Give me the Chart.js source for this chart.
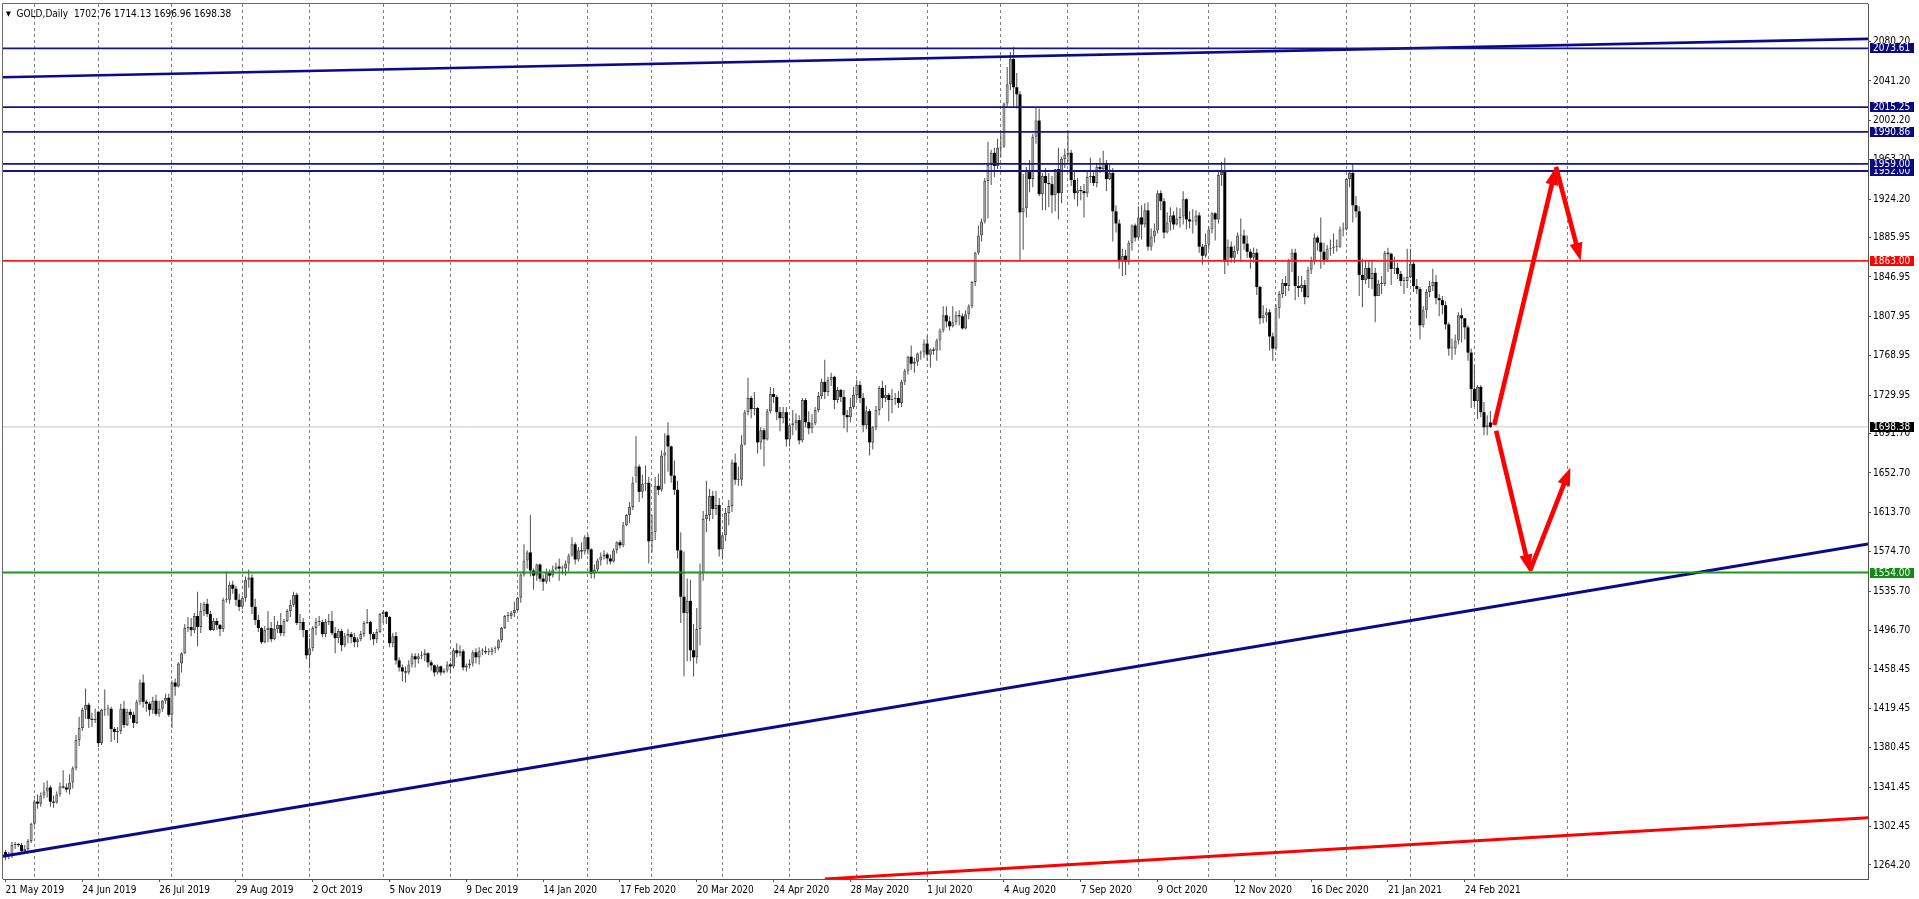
<!DOCTYPE html>
<html>
<head>
<meta charset="utf-8">
<title>GOLD, Daily</title>
<script src="https://cdn.jsdelivr.net/npm/chart.js"></script>
<style>
  html, body { margin: 0; padding: 0; background: #fff; overflow: hidden; }
  #wrap { position: relative; width: 1919px; height: 899px; }
  #hdr { position: absolute; left: 6px; top: 8px; font: 10px 'DejaVu Sans Condensed', 'DejaVu Sans', sans-serif;
         color: #000; white-space: pre; line-height: 12px; }
  #hdr .tri { font-size: 7px; position: relative; top: -1px; }
</style>
</head>
<body>
<div id="wrap">
  <canvas id="gold" width="1919" height="899"></canvas>
  <div id="hdr"><span class="tri">▼</span>  GOLD,Daily  1702.76 1714.13 1696.96 1698.38</div>
</div>
<script>
// daily bars 21 May 2019 .. 8 Mar 2021, one row per month
const opens = [
  1277,1273,1274,1284,1285,1284,1278,1280,1288,
  1305,1327,1325,1333,1337,1341,1327,1326,1334,1342,1341,1339,1346,1360,1388,1400,1418,1423,1409,1408,
  1416,1385,1418,1419,1419,1399,1396,1397,1419,1403,1416,1413,1405,1426,1445,1426,1424,1418,1427,1414,1419,1427,1430,
  1413,1445,1441,1464,1474,1499,1500,1497,1511,1500,1516,1523,1513,1497,1506,1502,1498,1527,1527,1542,1538,1527,
  1520,1529,1547,1549,1520,1507,1499,1485,1497,1499,1488,1498,1502,1494,1506,1516,1522,1532,1504,1505,1497,
  1472,1479,1499,1505,1505,1493,1505,1506,1494,1489,1496,1482,1491,1493,1490,1485,1488,1493,1504,1505,1493,1488,1495,
  1513,1515,1510,1484,1491,1467,1460,1456,1455,1463,1471,1468,1471,1472,1474,1465,1462,1455,1461,1455,1457,
  1463,1461,1477,1474,1476,1460,1462,1464,1475,1470,1476,1476,1475,1475,1478,1479,1487,1499,1511,1511,1514,
  1517,1529,1552,1566,1574,1556,1551,1562,1548,1545,1554,1551,1557,1560,1558,1558,1563,1571,1582,1567,1576,1575,
  1589,1577,1553,1557,1566,1570,1572,1568,1565,1576,1584,1581,1601,1611,1619,1650,1659,1634,1642,1643,
  1585,1594,1640,1636,1670,1690,1679,1650,1636,1576,1530,1514,1526,1477,1470,1498,1553,1607,1611,1630,1617,1621,
  1577,1591,1613,1620,1663,1646,1646,1681,1713,1727,1716,1717,1683,1695,1686,1714,1731,1728,1713,1707,1713,
  1686,1700,1702,1705,1685,1725,1703,1697,1702,1715,1729,1743,1733,1745,1748,1725,1735,1728,1710,1708,1718,
  1730,1740,1727,1700,1714,1683,1698,1715,1737,1727,1730,1725,1726,1727,1722,1743,1754,1768,1761,1763,1771,1772,
  1781,1770,1775,1774,1784,1794,1809,1803,1798,1802,1809,1808,1796,1810,1818,1842,1871,1888,1902,1942,1958,1970,1957,
  1975,1976,2019,2038,2063,2035,2028,1911,1915,1953,1944,1986,2002,1929,1947,1940,1939,1928,1954,1930,1964,
  1968,1970,1943,1930,1933,1932,1930,1946,1947,1940,1956,1954,1960,1944,1950,1912,1900,1863,1868,1862,1881,1898,
  1886,1906,1899,1913,1877,1887,1893,1930,1922,1891,1901,1908,1899,1905,1907,1924,1904,1902,1902,1908,1877,1868,
  1879,1894,1910,1904,1948,1951,1862,1877,1866,1873,1888,1888,1880,1872,1866,1871,1837,1806,1809,1812,1788,
  1776,1816,1830,1841,1838,1863,1871,1838,1836,1839,1827,1854,1863,1886,1881,1872,1864,1875,1876,1877,1877,1894,
  1894,1944,1950,1918,1912,1849,1844,1856,1845,1851,1828,1840,1840,1871,1870,1855,1856,1850,1843,1843,
  1847,1860,1838,1835,1799,1814,1832,1838,1842,1826,1824,1819,1800,1776,1776,1784,1809,1806,1797,1772,
  1736,1724,1738,1713,1698,1702.76
];
const highs = [
  1279,1277,1287,1287,1286,1286,1284,1290,1306,
  1329,1334,1336,1346,1348,1343,1333,1337,1346,1358,1345,1354,1362,1393,1411,1420,1439,1425,1415,1419,
  1417,1419,1438,1423,1421,1401,1401,1424,1427,1419,1419,1416,1428,1448,1453,1428,1426,1431,1433,1427,1428,1434,1434,
  1447,1449,1465,1475,1503,1510,1509,1514,1535,1524,1525,1528,1516,1509,1509,1503,1529,1555,1545,1546,1541,1533,
  1531,1550,1557,1552,1528,1512,1500,1501,1516,1505,1511,1506,1514,1508,1518,1527,1535,1534,1513,1509,1497,
  1489,1501,1509,1511,1507,1508,1513,1516,1500,1498,1498,1494,1498,1495,1494,1490,1496,1506,1518,1506,1495,1498,1514,
  1517,1516,1511,1494,1495,1470,1463,1461,1467,1474,1474,1474,1476,1478,1475,1467,1463,1463,1462,1459,1466,
  1465,1479,1484,1482,1478,1464,1468,1477,1479,1480,1479,1481,1479,1480,1481,1488,1500,1512,1515,1516,1525,
  1530,1553,1582,1576,1611,1558,1563,1563,1552,1558,1557,1561,1564,1568,1561,1566,1573,1589,1584,1579,1584,1591,
  1592,1578,1562,1568,1574,1576,1574,1572,1578,1585,1586,1604,1612,1624,1649,1689,1661,1651,1660,1649,
  1611,1649,1652,1675,1692,1703,1680,1665,1645,1594,1575,1548,1547,1503,1519,1563,1615,1645,1637,1635,1635,1628,
  1592,1618,1626,1666,1672,1659,1690,1715,1747,1729,1733,1718,1698,1697,1716,1738,1737,1730,1718,1718,1718,
  1702,1715,1712,1710,1727,1727,1714,1711,1718,1733,1746,1765,1748,1752,1749,1738,1736,1735,1715,1727,1738,
  1745,1744,1732,1719,1716,1699,1719,1739,1744,1740,1732,1736,1732,1734,1745,1756,1769,1779,1767,1772,1774,1785,
  1789,1776,1777,1786,1796,1818,1818,1808,1818,1813,1814,1811,1814,1820,1843,1872,1898,1905,1945,1981,1973,1975,1984,
  1992,2020,2055,2070,2075,2049,2031,1949,1956,1963,1989,2015,2014,1950,1955,1950,1947,1954,1975,1966,1974,
  1992,1973,1952,1945,1937,1939,1951,1965,1952,1959,1965,1972,1963,1959,1955,1918,1904,1875,1874,1883,1899,1900,
  1917,1918,1920,1921,1895,1900,1933,1933,1925,1911,1916,1912,1916,1915,1932,1925,1912,1914,1913,1911,1880,1890,
  1897,1911,1911,1951,1961,1965,1884,1882,1878,1891,1905,1894,1888,1875,1876,1875,1838,1819,1816,1815,1792,
  1820,1833,1845,1848,1865,1875,1875,1848,1848,1844,1857,1867,1890,1888,1906,1881,1879,1884,1890,1884,1897,1901,
  1945,1953,1959,1927,1917,1865,1864,1863,1863,1856,1844,1848,1873,1876,1871,1867,1861,1853,1847,1875,
  1875,1862,1845,1837,1818,1835,1843,1855,1849,1830,1828,1823,1802,1786,1790,1812,1816,1806,1799,1776,
  1760,1740,1740,1723,1710,1714.13
];
const lows = [
  1269,1270,1271,1280,1282,1276,1275,1278,1286,
  1303,1320,1322,1330,1331,1322,1321,1325,1332,1340,1336,1334,1340,1358,1382,1397,1409,1400,1401,1405,
  1381,1383,1412,1412,1386,1388,1385,1394,1400,1402,1409,1400,1404,1423,1420,1416,1412,1414,1412,1411,1416,1424,1411,
  1400,1432,1440,1455,1473,1495,1491,1494,1481,1494,1511,1510,1496,1496,1497,1491,1495,1524,1523,1533,1521,1516,
  1518,1525,1539,1513,1502,1495,1483,1484,1485,1485,1487,1494,1491,1491,1505,1510,1520,1502,1497,1490,1468,
  1459,1476,1492,1501,1490,1490,1502,1492,1474,1484,1476,1480,1484,1484,1480,1480,1486,1490,1503,1487,1482,1484,1494,
  1504,1503,1480,1480,1463,1456,1446,1445,1453,1460,1460,1464,1468,1466,1460,1457,1451,1453,1452,1454,1455,
  1454,1459,1470,1471,1457,1456,1459,1461,1464,1463,1472,1473,1472,1472,1474,1477,1485,1498,1505,1508,1510,
  1516,1524,1550,1558,1550,1537,1546,1545,1536,1543,1545,1549,1556,1546,1552,1551,1555,1570,1562,1565,1568,1572,
  1572,1548,1548,1555,1561,1567,1562,1562,1564,1573,1578,1579,1600,1603,1616,1643,1624,1628,1635,1563,
  1574,1586,1631,1634,1642,1654,1643,1631,1568,1504,1451,1466,1466,1451,1464,1482,1546,1594,1605,1607,1611,1570,
  1567,1585,1601,1614,1641,1640,1640,1680,1710,1707,1710,1672,1676,1659,1685,1712,1722,1705,1694,1702,1679,
  1679,1690,1695,1681,1683,1698,1691,1692,1700,1713,1726,1726,1729,1739,1716,1722,1723,1697,1693,1703,1716,
  1725,1722,1693,1696,1670,1676,1695,1710,1717,1723,1704,1712,1720,1717,1718,1740,1750,1755,1752,1759,1765,1767,
  1764,1757,1770,1764,1774,1792,1797,1794,1797,1799,1799,1795,1795,1805,1816,1838,1869,1882,1900,1905,1938,1946,1954,
  1965,1975,2015,2032,2015,2014,1863,1874,1906,1931,1936,1979,1927,1913,1913,1916,1910,1912,1904,1920,1955,
  1961,1937,1924,1917,1923,1906,1926,1940,1937,1936,1950,1952,1932,1943,1882,1891,1855,1848,1849,1859,1873,1882,
  1884,1884,1896,1873,1873,1881,1890,1913,1885,1890,1893,1894,1898,1896,1899,1894,1895,1890,1898,1871,1859,1866,
  1874,1890,1883,1900,1937,1850,1858,1861,1861,1870,1862,1874,1866,1855,1861,1829,1800,1801,1802,1774,1764,
  1774,1806,1826,1828,1833,1852,1824,1827,1832,1820,1826,1850,1859,1873,1855,1859,1862,1868,1870,1872,1876,1887,
  1893,1936,1901,1906,1828,1817,1840,1836,1835,1802,1828,1830,1838,1852,1839,1850,1845,1838,1830,1836,
  1846,1832,1830,1785,1797,1806,1827,1833,1820,1808,1810,1795,1769,1765,1770,1780,1782,1785,1764,1717,
  1718,1706,1708,1690,1690,1696.96
];
const closes = [
  1273,1274,1284,1285,1284,1278,1280,1288,1305,
  1327,1325,1333,1337,1341,1327,1326,1334,1342,1341,1339,1346,1360,1388,1400,1418,1423,1409,1408,1409,
  1385,1418,1419,1419,1399,1396,1397,1419,1403,1416,1413,1405,1426,1445,1426,1424,1418,1427,1414,1419,1427,1430,1413,
  1445,1441,1464,1474,1499,1500,1497,1511,1500,1516,1523,1513,1497,1506,1502,1498,1527,1527,1542,1538,1527,1520,
  1529,1547,1549,1520,1507,1499,1485,1497,1499,1488,1498,1502,1494,1506,1516,1522,1532,1504,1505,1497,1472,
  1479,1499,1505,1505,1493,1505,1506,1494,1489,1496,1482,1491,1493,1490,1485,1488,1493,1504,1505,1493,1488,1495,1513,
  1515,1510,1484,1491,1467,1460,1456,1455,1463,1471,1468,1471,1472,1474,1465,1462,1455,1461,1455,1457,1463,
  1461,1477,1474,1476,1460,1462,1464,1475,1470,1476,1476,1475,1475,1478,1479,1487,1499,1511,1511,1514,1517,
  1529,1552,1566,1574,1556,1551,1562,1548,1545,1554,1551,1557,1560,1558,1558,1563,1571,1582,1567,1576,1575,1589,
  1577,1553,1557,1566,1570,1572,1568,1565,1576,1584,1581,1601,1611,1619,1643,1659,1634,1642,1643,1585,
  1594,1640,1636,1670,1673,1679,1650,1636,1576,1530,1514,1526,1477,1470,1498,1553,1607,1611,1630,1617,1621,1577,
  1591,1613,1620,1663,1646,1646,1681,1713,1727,1716,1717,1683,1695,1686,1714,1731,1728,1713,1707,1713,1686,
  1700,1702,1705,1685,1725,1703,1697,1702,1715,1729,1743,1733,1745,1748,1725,1735,1728,1710,1708,1718,1730,
  1740,1727,1700,1714,1683,1698,1715,1737,1727,1730,1725,1726,1727,1722,1743,1754,1768,1761,1763,1771,1772,1781,
  1770,1775,1774,1784,1794,1809,1803,1798,1802,1809,1808,1796,1810,1818,1842,1871,1888,1902,1942,1958,1970,1957,1975,
  1976,2019,2038,2063,2035,2028,1911,1915,1953,1944,1986,2002,1929,1947,1940,1939,1928,1954,1930,1964,1968,
  1970,1943,1930,1933,1932,1930,1946,1947,1940,1956,1954,1960,1944,1950,1912,1900,1863,1868,1862,1881,1898,1886,
  1906,1899,1913,1877,1887,1893,1930,1922,1891,1901,1908,1899,1905,1907,1924,1904,1902,1902,1908,1877,1868,1879,
  1894,1910,1904,1948,1951,1862,1877,1866,1873,1888,1888,1880,1872,1866,1871,1837,1806,1809,1812,1788,1776,
  1816,1830,1841,1838,1863,1871,1838,1836,1839,1827,1854,1863,1886,1881,1872,1864,1875,1876,1877,1877,1894,1894,
  1944,1950,1918,1912,1849,1844,1856,1845,1851,1828,1840,1840,1871,1870,1855,1856,1850,1843,1843,1847,
  1860,1838,1835,1799,1814,1832,1838,1842,1826,1824,1819,1800,1776,1776,1784,1809,1806,1797,1772,1736,
  1724,1738,1713,1698,1700,1698.38
];

// broker calendar: weekdays, minus these closed days
const holidays = ['2019-12-25', '2020-01-01', '2020-04-10', '2020-12-25', '2021-01-01'];

// time axis: one label every 24 bars
const tickLabels = ['21 May 2019', '24 Jun 2019', '26 Jul 2019', '29 Aug 2019', '2 Oct 2019', '5 Nov 2019',
  '9 Dec 2019', '14 Jan 2020', '17 Feb 2020', '20 Mar 2020', '24 Apr 2020', '28 May 2020', '1 Jul 2020',
  '4 Aug 2020', '7 Sep 2020', '9 Oct 2020', '12 Nov 2020', '16 Dec 2020', '21 Jan 2021', '24 Feb 2021'];
const labelEvery = 24;

// price axis
const priceTicks = [2080.20, 2041.20, 2002.20, 1963.20, 1924.20, 1885.95, 1846.95, 1807.95, 1768.95, 1729.95,
  1691.70, 1652.70, 1613.70, 1574.70, 1535.70, 1496.70, 1458.45, 1419.45, 1380.45, 1341.45, 1302.45, 1264.20];
const priceMin = 1250.3, priceMax = 2117.5;
const barMin = -0.8, barMax = 582;

// drawn objects
const navyLevels = [2073.61, 2015.25, 1990.86, 1959.00, 1952.00];
const resistance = 1863.00;
const support = 1554.00;
const bid = 1698.38;
const upperTrend = [[barMin, 2044.9], [barMax, 2082.9]];
const lowerTrend = [[barMin, 1272.8], [barMax, 1582.3]];
const redTrend = [[256, 1250.3], [barMax, 1311.1]];
const arrows = [
  [[465.2, 1700.2], [484.5, 1956.0]],
  [[484.5, 1956.0], [492.2, 1863.0]],
  [[465.8, 1694.5], [476.4, 1554.0]],
  [[476.4, 1556.0], [489.0, 1658.0]]
];

// price tags on the right axis, drawn in this order
const tagPrices = [2073.61, 2015.25, 1990.86, 1952.00, 1959.00, 1863.00, 1698.38, 1554.00];
const tagColors = ['#0a0a80', '#0a0a80', '#0a0a80', '#0a0a80', '#0a0a80', '#ff0000', '#000000', '#138a13'];

const FONT = "'DejaVu Sans Condensed', 'DejaVu Sans', sans-serif";
const NAVY = '#14148a';

// trading dates
const dates = [];
for (let t = Date.UTC(2019, 4, 21); dates.length < closes.length; t += 86400000) {
  const d = new Date(t);
  const wd = d.getUTCDay();
  if (wd === 0 || wd === 6) continue;
  if (holidays.includes(d.toISOString().slice(0, 10))) continue;
  dates.push(d);
}
// month separators; past the last bar the terminal counts calendar days
const monthStarts = [];
for (let i = 1; i < dates.length; i++) {
  if (dates[i].getUTCMonth() !== dates[i - 1].getUTCMonth()) monthStarts.push(i);
}
const lastDate = dates[dates.length - 1];
const nextMonth = Date.UTC(lastDate.getUTCFullYear(), lastDate.getUTCMonth() + 1, 1);
monthStarts.push(dates.length - 1 + Math.round((nextMonth - lastDate.getTime()) / 86400000));

const isUp = i => closes[i] >= opens[i];

function seg(points, color, width, order) {
  return {
    type: 'line',
    data: points.map(([x, y]) => ({ x: x, y: y })),
    borderColor: color,
    borderWidth: width,
    pointRadius: 0,
    fill: false,
    tension: 0,
    order: order
  };
}

const datasets = [
  {
    type: 'bar',
    data: closes.map((c, i) => ({ x: i, y: [lows[i], highs[i]] })),
    backgroundColor: '#4e4e4e',
    barThickness: 1,
    inflateAmount: 0,
    grouped: false,
    order: 20
  },
  {
    type: 'bar',
    data: closes.map((c, i) => ({ x: i, y: [Math.min(opens[i], c), Math.max(opens[i], c)] })),
    backgroundColor: ctx => (ctx.dataIndex !== undefined && isUp(ctx.dataIndex) ? '#a9a9a9' : '#000000'),
    borderColor: '#4e4e4e',
    borderWidth: ctx => (ctx.dataIndex !== undefined && isUp(ctx.dataIndex) ? 1 : 0),
    borderSkipped: false,
    barThickness: 3,
    minBarLength: 1,
    inflateAmount: 0,
    grouped: false,
    order: 19
  },
  seg([[barMin, bid], [barMax, bid]], '#c8c8c8', 1, 30)
];
navyLevels.forEach(p => datasets.push(seg([[barMin, p], [barMax, p]], NAVY, 1.8, 5)));
datasets.push(seg(upperTrend, '#0a0a8a', 2.6, 5));
datasets.push(seg(lowerTrend, '#0a0a8a', 3, 5));
datasets.push(seg([[barMin, resistance], [barMax, resistance]], '#ff1a1a', 1.8, 4));
datasets.push(seg([[barMin, support], [barMax, support]], '#1e961e', 2, 4));
datasets.push(seg(redTrend, '#ff0000', 3, 4));
arrows.forEach(a => {
  const d = seg(a, '#ff0000', 4.6, 1);
  d.showLine = false;
  d.arrow = true;
  datasets.push(d);
});

// arrows: shaft plus filled head, from the dataset's own points
const arrowPlugin = {
  id: 'arrowPlugin',
  afterDatasetsDraw(chart) {
    const ctx = chart.ctx;
    chart.data.datasets.forEach((ds, k) => {
      if (!ds.arrow) return;
      const pts = chart.getDatasetMeta(k).data;
      const a = pts[0], b = pts[1];
      const ang = Math.atan2(b.y - a.y, b.x - a.x);
      const len = Math.hypot(b.x - a.x, b.y - a.y);
      ctx.save();
      ctx.translate(a.x, a.y);
      ctx.rotate(ang);
      ctx.strokeStyle = ds.borderColor;
      ctx.fillStyle = ds.borderColor;
      ctx.lineWidth = ds.borderWidth;
      ctx.beginPath();
      ctx.moveTo(0, 0);
      ctx.lineTo(len - 12, 0);
      ctx.stroke();
      ctx.beginPath();
      ctx.moveTo(len, 0);
      ctx.lineTo(len - 18, -6.5);
      ctx.lineTo(len - 18, 6.5);
      ctx.closePath();
      ctx.fill();
      ctx.restore();
    });
  }
};

// left/top edge of the chart window
const framePlugin = {
  id: 'framePlugin',
  afterDraw(chart) {
    const { ctx, chartArea } = chart;
    ctx.save();
    ctx.strokeStyle = '#6a6a6a';
    ctx.lineWidth = 1;
    ctx.beginPath();
    ctx.moveTo(chartArea.left - 0.5, chartArea.bottom);
    ctx.lineTo(chartArea.left - 0.5, chartArea.top - 0.5);
    ctx.lineTo(chartArea.right, chartArea.top - 0.5);
    ctx.stroke();
    ctx.restore();
  }
};

// coloured price tags
const tagPlugin = {
  id: 'tagPlugin',
  afterDraw(chart) {
    const { ctx, chartArea } = chart;
    const y = chart.scales.y;
    ctx.save();
    ctx.font = '10px ' + FONT;
    ctx.textBaseline = 'middle';
    ctx.textAlign = 'left';
    tagPrices.forEach((p, k) => {
      const py = Math.round(y.getPixelForValue(p));
      ctx.fillStyle = tagColors[k];
      ctx.fillRect(chartArea.right + 2, py - 5, 44, 10);
      ctx.fillStyle = '#ffffff';
      ctx.fillText(p.toFixed(2), chartArea.right + 5, py + 0.5);
    });
    ctx.restore();
  }
};

const noPad = s => { s.paddingLeft = 0; s.paddingRight = 0; s.paddingTop = 0; s.paddingBottom = 0; };

new Chart(document.getElementById('gold'), {
  type: 'bar',
  data: { datasets: datasets },
  options: {
    responsive: false,
    devicePixelRatio: 1,
    animation: false,
    events: [],
    layout: { padding: { left: 3, top: 4, right: 0, bottom: 0 } },
    plugins: { legend: { display: false }, tooltip: { enabled: false } },
    scales: {
      x: {
        type: 'linear',
        position: 'bottom',
        min: barMin,
        max: barMax,
        offset: false,
        weight: 1,
        afterBuildTicks: s => { s.ticks = tickLabels.map((t, k) => ({ value: k * labelEvery })); },
        afterFit: s => { s.height = 20; noPad(s); },
        ticks: {
          autoSkip: false,
          maxRotation: 0,
          align: 'start',
          padding: 2,
          color: '#000',
          font: { family: FONT, size: 10 },
          callback: v => tickLabels[Math.round(v / labelEvery)] || ''
        },
        grid: { offset: false, drawOnChartArea: false, tickLength: 3, color: '#555' },
        border: { display: true, color: '#555' }
      },
      months: {
        type: 'linear',
        axis: 'x',
        position: 'bottom',
        min: barMin,
        max: barMax,
        offset: false,
        weight: 0,
        afterBuildTicks: s => { s.ticks = monthStarts.map(v => ({ value: v })); },
        afterFit: s => { s.height = 0; noPad(s); },
        ticks: { display: false },
        grid: { offset: false, drawTicks: false, color: '#808080', lineWidth: 1 },
        border: { display: false, dash: [3, 3] }
      },
      y: {
        type: 'linear',
        position: 'right',
        min: priceMin,
        max: priceMax,
        afterBuildTicks: s => { s.ticks = priceTicks.map(v => ({ value: v })); },
        afterFit: s => { s.width = 51; noPad(s); },
        ticks: {
          autoSkip: false,
          padding: 2,
          color: '#000',
          font: { family: FONT, size: 10 },
          callback: v => Number(v).toFixed(2)
        },
        grid: { drawOnChartArea: false, tickLength: 3, color: '#555' },
        border: { display: true, color: '#555' }
      }
    }
  },
  plugins: [arrowPlugin, framePlugin, tagPlugin]
});
</script>
</body>
</html>
